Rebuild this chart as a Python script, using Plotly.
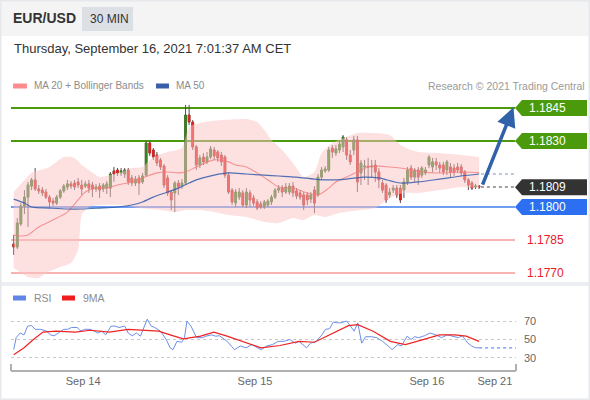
import plotly.graph_objects as go

W, H = 590, 400


def px(x):
    return x / W


def py(y):
    return 1 - y / H


# 30-min EUR/USD bars, x = bar index (0 = first visible bar on Sep 13)
opens = [
    1.17832, 1.17818, 1.17923, 1.18005, 1.18045, 1.18095, 1.18123, 1.18082, 1.18077, 1.18068,
    1.18045, 1.18027, 1.18018, 1.18045, 1.18073, 1.18091, 1.18105, 1.18109, 1.18114, 1.18100,
    1.18095, 1.18105, 1.18100, 1.18082, 1.18095, 1.18082, 1.18086, 1.18086, 1.18164, 1.18168,
    1.18155, 1.18150, 1.18168, 1.18132, 1.18109, 1.18132, 1.18114, 1.18145, 1.18291, 1.18259,
    1.18236, 1.18214, 1.18186, 1.18132, 1.18068, 1.18064, 1.18109, 1.18095, 1.18109, 1.18418,
    1.18386, 1.18273, 1.18191, 1.18227, 1.18205, 1.18227, 1.18259, 1.18250, 1.18236, 1.18227,
    1.18145, 1.18077, 1.18018, 1.18045, 1.18064, 1.18009, 1.18064, 1.18041, 1.18023, 1.18014,
    1.18000, 1.18009, 1.18023, 1.18045, 1.18077, 1.18086, 1.18068, 1.18068, 1.18095, 1.18073,
    1.18064, 1.18055, 1.18055, 1.18036, 1.18077, 1.18055, 1.18136, 1.18164, 1.18168, 1.18268,
    1.18245, 1.18259, 1.18273, 1.18305, 1.18236, 1.18259, 1.18305, 1.18155, 1.18182, 1.18186,
    1.18182, 1.18191, 1.18159, 1.18109, 1.18100, 1.18055, 1.18077, 1.18086, 1.18086, 1.18077,
    1.18114, 1.18177, 1.18136, 1.18168, 1.18145, 1.18155, 1.18191, 1.18182, 1.18205, 1.18191,
    1.18191, 1.18168, 1.18182, 1.18177, 1.18182, 1.18182, 1.18159, 1.18123, 1.18109, 1.18091,
    1.18095,
]
closes = [
    1.17818, 1.17927, 1.18005, 1.18045, 1.18100, 1.18123, 1.18082, 1.18073, 1.18064, 1.18045,
    1.18023, 1.18018, 1.18045, 1.18073, 1.18095, 1.18105, 1.18095, 1.18091, 1.18100, 1.18082,
    1.18105, 1.18086, 1.18082, 1.18091, 1.18077, 1.18100, 1.18105, 1.18150, 1.18150, 1.18155,
    1.18164, 1.18168, 1.18114, 1.18109, 1.18127, 1.18109, 1.18141, 1.18291, 1.18245, 1.18227,
    1.18200, 1.18182, 1.18100, 1.18064, 1.18032, 1.18109, 1.18091, 1.18109, 1.18418, 1.18386,
    1.18273, 1.18191, 1.18223, 1.18205, 1.18227, 1.18264, 1.18232, 1.18223, 1.18205, 1.18145,
    1.18068, 1.18023, 1.18068, 1.18068, 1.18009, 1.18068, 1.18032, 1.18018, 1.17995, 1.18000,
    1.18023, 1.18027, 1.18045, 1.18077, 1.18086, 1.18068, 1.18091, 1.18095, 1.18064, 1.18050,
    1.18045, 1.18009, 1.18032, 1.18055, 1.18018, 1.18136, 1.18168, 1.18173, 1.18259, 1.18250,
    1.18264, 1.18286, 1.18318, 1.18236, 1.18205, 1.18305, 1.18114, 1.18200, 1.18186, 1.18182,
    1.18186, 1.18159, 1.18123, 1.18077, 1.18032, 1.18068, 1.18086, 1.18055, 1.18032, 1.18114,
    1.18168, 1.18136, 1.18168, 1.18136, 1.18177, 1.18168, 1.18227, 1.18205, 1.18191, 1.18177,
    1.18159, 1.18205, 1.18159, 1.18159, 1.18168, 1.18155, 1.18123, 1.18100, 1.18086, 1.18095,
    1.18091,
]
highs = [
    1.17873, 1.17950, 1.18018, 1.18077, 1.18114, 1.18132, 1.18177, 1.18100, 1.18091, 1.18082,
    1.18055, 1.18041, 1.18055, 1.18082, 1.18105, 1.18123, 1.18118, 1.18123, 1.18132, 1.18123,
    1.18118, 1.18123, 1.18114, 1.18105, 1.18109, 1.18109, 1.18118, 1.18159, 1.18182, 1.18177,
    1.18177, 1.18177, 1.18177, 1.18145, 1.18141, 1.18145, 1.18155, 1.18300, 1.18300, 1.18268,
    1.18250, 1.18223, 1.18195, 1.18145, 1.18077, 1.18118, 1.18123, 1.18127, 1.18464, 1.18464,
    1.18395, 1.18282, 1.18236, 1.18245, 1.18250, 1.18277, 1.18273, 1.18259, 1.18250, 1.18236,
    1.18159, 1.18086, 1.18082, 1.18086, 1.18077, 1.18086, 1.18077, 1.18055, 1.18036, 1.18027,
    1.18032, 1.18036, 1.18055, 1.18086, 1.18100, 1.18100, 1.18109, 1.18109, 1.18114, 1.18086,
    1.18077, 1.18068, 1.18068, 1.18068, 1.18095, 1.18150, 1.18182, 1.18186, 1.18273, 1.18282,
    1.18282, 1.18305, 1.18327, 1.18318, 1.18259, 1.18323, 1.18323, 1.18214, 1.18214, 1.18223,
    1.18214, 1.18214, 1.18177, 1.18123, 1.18109, 1.18086, 1.18100, 1.18100, 1.18100, 1.18132,
    1.18182, 1.18191, 1.18177, 1.18182, 1.18186, 1.18182, 1.18236, 1.18223, 1.18223, 1.18205,
    1.18205, 1.18214, 1.18200, 1.18195, 1.18200, 1.18195, 1.18168, 1.18132, 1.18118, 1.18105,
    1.18100,
]
lows = [
    1.17782, 1.17809, 1.17914, 1.17968, 1.17909, 1.18077, 1.18073, 1.18059, 1.18050, 1.18036,
    1.17995, 1.18005, 1.18009, 1.18036, 1.18064, 1.18077, 1.18082, 1.18077, 1.18086, 1.18055,
    1.18086, 1.18064, 1.18045, 1.18068, 1.18041, 1.18068, 1.18059, 1.18045, 1.18114, 1.18141,
    1.18141, 1.18132, 1.18100, 1.18095, 1.18095, 1.18055, 1.18105, 1.18136, 1.18232, 1.18214,
    1.18186, 1.18168, 1.18086, 1.18050, 1.17986, 1.17977, 1.18055, 1.18082, 1.18100, 1.18373,
    1.18259, 1.18168, 1.18177, 1.18191, 1.18195, 1.18218, 1.18214, 1.18205, 1.18186, 1.18132,
    1.18059, 1.18009, 1.18000, 1.18032, 1.18000, 1.17995, 1.18000, 1.18005, 1.17986, 1.17991,
    1.17991, 1.18000, 1.18009, 1.18036, 1.18064, 1.18045, 1.18059, 1.18055, 1.18045, 1.18036,
    1.18032, 1.17986, 1.18009, 1.18018, 1.17973, 1.18045, 1.18123, 1.18155, 1.18159, 1.18223,
    1.18232, 1.18245, 1.18250, 1.18214, 1.18191, 1.18236, 1.18068, 1.18100, 1.18123, 1.18100,
    1.18132, 1.18114, 1.18086, 1.18064, 1.18018, 1.18041, 1.18064, 1.18041, 1.18018, 1.18041,
    1.18100, 1.18123, 1.18114, 1.18100, 1.18132, 1.18145, 1.18177, 1.18159, 1.18168, 1.18155,
    1.18145, 1.18145, 1.18136, 1.18141, 1.18155, 1.18141, 1.18109, 1.18077, 1.18077, 1.18082,
    1.18082,
]

# MA 20 + Bollinger bands and MA 50, read at sample bars
ma20_x = [0, 2, 4, 7, 11, 15, 18, 20, 23, 26, 29, 33, 36, 40, 43, 46, 48, 51, 56, 60,
          62, 65, 68, 71, 74, 78, 82, 85, 88, 90, 93, 96, 99, 102, 105, 108, 117, 126, 130]
ma20 = [1.17873, 1.17868, 1.17873, 1.17909, 1.17941, 1.17977, 1.18032, 1.18068, 1.18086, 1.18086,
        1.18100, 1.18114, 1.18132, 1.18155, 1.18159, 1.18155, 1.18159, 1.18182, 1.18214, 1.18205,
        1.18191, 1.18182, 1.18155, 1.18123, 1.18091, 1.18086, 1.18064, 1.18055, 1.18086, 1.18114,
        1.18136, 1.18159, 1.18182, 1.18186, 1.18182, 1.18177, 1.18155, 1.18159, 1.18155]

bb_up_x = [0, 3, 5, 10, 14, 17, 19, 21, 24, 27, 30, 33, 36, 39, 43, 47, 49, 52, 58, 65,
           68, 70, 72, 75, 78, 81, 84, 86, 89, 93, 96, 100, 105, 108, 111, 113, 119, 125, 130]
bb_up = [1.18068, 1.18123, 1.18155, 1.18182, 1.18227, 1.18223, 1.18191, 1.18168, 1.18136, 1.18145,
         1.18159, 1.18177, 1.18182, 1.18227, 1.18250, 1.18268, 1.18364, 1.18382, 1.18395, 1.18400,
         1.18386, 1.18350, 1.18305, 1.18259, 1.18200, 1.18136, 1.18159, 1.18245, 1.18291, 1.18318,
         1.18336, 1.18336, 1.18327, 1.18282, 1.18259, 1.18250, 1.18245, 1.18236, 1.18227]

bb_lo_x = [0, 4, 7, 9, 13, 16, 18, 19, 21, 24, 30, 35, 41, 45, 48, 52, 56, 60, 65, 70,
           74, 78, 81, 84, 87, 91, 97, 101, 105, 109, 113, 119, 125, 130]
bb_lo = [1.17723, 1.17682, 1.17677, 1.17700, 1.17727, 1.17745, 1.17805, 1.17964, 1.18000, 1.18009,
         1.18009, 1.17995, 1.17986, 1.17977, 1.17986, 1.17986, 1.17977, 1.17964, 1.17955, 1.17932,
         1.17927, 1.17950, 1.17941, 1.17964, 1.17955, 1.17973, 1.17986, 1.17995, 1.18041, 1.18064,
         1.18064, 1.18077, 1.18091, 1.18086]

ma50_x = [0, 3, 5, 10, 15, 19, 24, 29, 33, 36, 39, 43, 46, 49, 51, 56, 60, 65, 70, 74,
          79, 84, 88, 93, 98, 102, 108, 113, 119, 125, 130]
ma50 = [1.18036, 1.18018, 1.18000, 1.17995, 1.17991, 1.17991, 1.17995, 1.18000, 1.18009, 1.18023,
        1.18045, 1.18068, 1.18086, 1.18109, 1.18123, 1.18145, 1.18155, 1.18150, 1.18145, 1.18141,
        1.18136, 1.18127, 1.18123, 1.18127, 1.18136, 1.18132, 1.18109, 1.18114, 1.18127, 1.18141,
        1.18150]

# RSI and its 9-period MA
rsi_x = [0.0, 0.7, 1.8, 2.9, 3.9, 5.0, 6.0, 7.6, 9.2, 10.3, 11.3, 12.4, 14.0, 15.1, 16.1, 17.7,
         18.8, 19.8, 21.4, 22.5, 23.5, 24.6, 25.7, 27.2, 28.3, 29.4, 31.0, 32.0, 33.1, 34.3, 35.4,
         37.3, 38.4, 39.4, 41.0, 42.6, 43.7, 44.5, 45.6, 46.9, 47.7, 48.4, 49.5, 51.1, 52.7, 53.7,
         55.3, 56.4, 57.5, 59.6, 61.7, 63.3, 64.9, 66.5, 68.1, 69.1, 70.7, 72.3, 73.9, 75.5, 77.1,
         78.7, 79.7, 80.8, 81.8, 82.9, 84.5, 86.1, 87.1, 88.2, 89.3, 90.3, 91.4, 93.0, 94.0, 95.1,
         96.1, 97.2, 98.3, 99.9, 101.4, 103.0, 104.6, 105.7, 107.3, 108.3, 109.9, 111.0, 112.0,
         113.1, 114.7, 116.3, 117.9, 119.5, 121.1, 122.6, 124.2, 125.3, 126.9, 127.9, 129.0, 130.0]
rsi = [39, 52, 57, 55, 64.5, 65, 61, 61, 59, 55, 54, 57, 61, 61, 63, 63,
       59, 61, 61, 59, 57, 59, 55, 64.5, 64.5, 63, 64.5, 57, 54, 57, 53.6,
       72, 64.5, 63, 59, 50, 41, 39, 48, 47, 52, 70, 64.5, 52, 52, 53.6,
       55, 53.6, 54, 48, 39, 43, 41, 44.5, 41, 39, 43, 44.5, 48, 48, 50,
       46, 48, 44.5, 41, 46, 48, 55, 61, 61.6, 69, 68, 68, 70, 64.5, 59,
       68, 46, 53, 53, 52, 48, 43, 39, 44.5, 43, 53.6, 50, 53,
       52, 54, 57, 55, 52, 55, 53.6, 52, 54, 46, 43, 41, 41]
rsi_ma_x = [0, 2.9, 5.5, 8.2, 11.9, 17.2, 21.4, 26.7, 32.0, 40.5, 43.7, 47.4, 52.2, 55.9, 59.6,
            63.8, 69.1, 74.4, 79.7, 84.0, 88.2, 93.5, 96.1, 100.4, 105.2, 109.4, 113.6, 118.9,
            123.2, 126.4, 130.0]
rsi_ma = [33.6, 41, 50, 58, 59, 58, 60, 58, 61, 59, 55, 50.7, 53.6, 58, 53.6,
          48, 41, 43.5, 48, 47, 55, 65, 66, 59, 48, 44.5, 49, 55,
          55, 53.6, 48]

tick_pos = [19.4, 67.4, 115.4, 134.4]
tick_text = ['Sep 14', 'Sep 15', 'Sep 16', 'Sep 21']

levels = [1.1845, 1.1830, 1.1809, 1.1800, 1.1785, 1.1770]
level_text = ['1.1845', '1.1830', '1.1809', '1.1800', '1.1785', '1.1770']
level_kind = ['res', 'res', 'last', 'pivot', 'sup', 'sup']
target = 1.1845

# geometry (pixels of the 590x400 card)
PLOT_L, PLOT_R = 11, 516
MAIN_T, MAIN_B = 96, 280
RSI_T, RSI_B = 305, 370
X_RANGE = [-0.75, 140.3]
Y_RANGE = [1.176682, 1.185045]
RSI_RANGE = [17.0, 87.3]
FONT = 'Liberation Sans, Arial, sans-serif'

GREEN = '#4a9a0c'
RED_BODY = '#e3231f'
GREEN_BODY = '#34861e'
WICK = '#5b4c4c'

fig = go.Figure()

# Bollinger band
fig.add_trace(go.Scatter(x=bb_lo_x, y=bb_lo, mode='lines', line=dict(width=0, shape='spline', smoothing=0.6),
                         hoverinfo='skip', xaxis='x', yaxis='y'))
fig.add_trace(go.Scatter(x=bb_up_x, y=bb_up, mode='lines', line=dict(width=0, shape='spline', smoothing=0.6),
                         fill='tonexty', fillcolor='rgba(251,196,196,0.5)', hoverinfo='skip',
                         xaxis='x', yaxis='y'))

# candles: wicks first, then the coloured bodies on top
bar_x = list(range(len(closes)))
fig.add_trace(go.Candlestick(
    x=bar_x, open=opens, high=highs, low=lows, close=closes,
    increasing=dict(line=dict(color=WICK, width=1), fillcolor=GREEN_BODY),
    decreasing=dict(line=dict(color=WICK, width=1), fillcolor=RED_BODY),
    whiskerwidth=0, hoverinfo='skip', xaxis='x', yaxis='y'))
body_hi = [max(o, c) for o, c in zip(opens, closes)]
body_lo = [min(o, c) for o, c in zip(opens, closes)]
fig.add_trace(go.Candlestick(
    x=bar_x, open=opens, high=body_hi, low=body_lo, close=closes,
    increasing=dict(line=dict(color=GREEN_BODY, width=0.6), fillcolor=GREEN_BODY),
    decreasing=dict(line=dict(color=RED_BODY, width=0.6), fillcolor=RED_BODY),
    whiskerwidth=0, hoverinfo='skip', xaxis='x', yaxis='y'))

# moving averages
fig.add_trace(go.Scatter(x=ma20_x, y=ma20, mode='lines',
                         line=dict(color='rgba(242,120,120,0.75)', width=1.1, shape='spline', smoothing=0.8),
                         hoverinfo='skip', xaxis='x', yaxis='y'))
fig.add_trace(go.Scatter(x=ma50_x, y=ma50, mode='lines',
                         line=dict(color='rgba(52,90,170,0.85)', width=1.2, shape='spline', smoothing=0.8),
                         hoverinfo='skip', xaxis='x', yaxis='y'))

# dotted projections to the right edge
last = len(closes) - 1
fig.add_trace(go.Scatter(x=[last + 0.5, X_RANGE[1]], y=[ma50[-1], ma50[-1]], mode='lines',
                         line=dict(color='#7d8fb3', width=1.2, dash='dot'), hoverinfo='skip',
                         xaxis='x', yaxis='y'))
fig.add_trace(go.Scatter(x=[last + 0.5, X_RANGE[1]], y=[closes[-1], closes[-1]], mode='lines',
                         line=dict(color='#444444', width=1.2, dash='dot'), hoverinfo='skip',
                         xaxis='x', yaxis='y'))

# RSI panel
fig.add_trace(go.Scatter(x=rsi_x, y=rsi, mode='lines', line=dict(color='#6b8fe9', width=1),
                         hoverinfo='skip', xaxis='x2', yaxis='y2'))
fig.add_trace(go.Scatter(x=rsi_ma_x, y=rsi_ma, mode='lines', line=dict(color='#ee2424', width=1.2),
                         hoverinfo='skip', xaxis='x2', yaxis='y2'))
fig.add_trace(go.Scatter(x=[rsi_x[-1], X_RANGE[1]], y=[rsi[-1], rsi[-1]], mode='lines',
                         line=dict(color='#6b8fe9', width=1.2, dash='dot'), hoverinfo='skip',
                         xaxis='x2', yaxis='y2'))

shapes = []
annotations = []

# card frame, header strip, panel separator
shapes.append(dict(type='rect', xref='paper', yref='paper', x0=0, x1=1, y0=py(36), y1=1,
                   fillcolor='#f4f4f4', line=dict(width=0), layer='below'))
shapes.append(dict(type='rect', xref='paper', yref='paper', x0=0, x1=1, y0=py(286), y1=py(282),
                   fillcolor='#eceef1', line=dict(width=0), layer='below'))
shapes.append(dict(type='rect', xref='paper', yref='paper', x0=0, x1=1, y0=0, y1=1,
                   line=dict(color='#e6e8eb', width=3), layer='above'))
shapes.append(dict(type='rect', xref='paper', yref='paper', x0=px(82), x1=px(133), y0=py(31), y1=py(7),
                   fillcolor='#dcdfe4', line=dict(width=0), layer='below'))

# horizontal levels and right-side tags
ppp = (Y_RANGE[1] - Y_RANGE[0]) / (MAIN_B - MAIN_T)
half = 8 * ppp
line_style = {'res': (GREEN, 2), 'pivot': ('#6e9df1', 2), 'sup': ('#f8b3b3', 2)}
tag_fill = {'res': GREEN, 'last': '#333333', 'pivot': '#2c6ff0'}
for lvl, txt, kind in zip(levels, level_text, level_kind):
    if kind in line_style:
        col, w = line_style[kind]
        shapes.append(dict(type='line', xref='paper', yref='y', x0=px(PLOT_L), x1=px(515),
                           y0=lvl, y1=lvl, line=dict(color=col, width=w), layer='below'))
    if kind in tag_fill:
        path = 'M {a},{m} L {b},{t} L {c},{t} L {c},{d} L {b},{d} Z'.format(
            a=px(515), b=px(522), c=px(587), m=lvl, t=lvl + half, d=lvl - half)
        shapes.append(dict(type='path', xref='paper', yref='y', path=path,
                           fillcolor=tag_fill[kind], line=dict(width=0), layer='above'))
        annotations.append(dict(text=txt, xref='paper', yref='y', x=px(527), y=lvl,
                                xanchor='left', yanchor='middle', showarrow=False,
                                font=dict(family=FONT, size=12, color='#ffffff')))
    else:
        annotations.append(dict(text=txt, xref='paper', yref='y', x=px(525), y=lvl,
                                xanchor='left', yanchor='middle', showarrow=False,
                                font=dict(family=FONT, size=12, color='#e8202a')))

# target arrow
annotations.append(dict(text='', xref='x', yref='y', axref='x', ayref='y',
                        x=139.6, y=target + 0.00003, ax=last + 0.8, ay=closes[-1] + 0.00004,
                        showarrow=True, arrowhead=2, arrowsize=1.1, arrowwidth=3.5,
                        arrowcolor='#2f62a8', standoff=0))

# rsi axis end ticks
for xe in (PLOT_L, PLOT_R):
    shapes.append(dict(type='line', xref='paper', yref='paper', x0=px(xe), x1=px(xe),
                       y0=py(RSI_B + 1), y1=py(RSI_B - 6), line=dict(color='#b0b0b0', width=2)))

# header and legends
annotations += [
    dict(text='<b>EUR/USD</b>', x=px(11), y=py(18), font=dict(size=14, color='#333333')),
    dict(text='30 MIN', x=px(88), y=py(19), font=dict(size=12, color='#333333')),
    dict(text='Thursday, September 16, 2021 7:01:37 AM CET', x=px(12), y=py(48),
         font=dict(size=13, color='#333333')),
    dict(text='MA 20 + Bollinger Bands', x=px(32), y=py(86), font=dict(size=10, color='#8c8c8c')),
    dict(text='MA 50', x=px(174), y=py(86), font=dict(size=10, color='#8c8c8c')),
    dict(text='RSI', x=px(32), y=py(298), font=dict(size=10.5, color='#8c8c8c')),
    dict(text='9MA', x=px(81), y=py(298), font=dict(size=10.5, color='#8c8c8c')),
]
for a in annotations[-7:]:
    a.update(xref='paper', yref='paper', xanchor='left', yanchor='middle', showarrow=False)
    a['font']['family'] = FONT
annotations.append(dict(text='Research © 2021 Trading Central', xref='paper', yref='paper',
                        x=px(587), y=py(86), xanchor='right', yanchor='middle', showarrow=False,
                        font=dict(family=FONT, size=10.5, color='#9a9a9a')))

for x0, x1, y0, col in [(13, 27, 86, '#ff8c8c'), (156, 169, 86, '#3b5ea8'),
                        (13, 26, 298, '#5f86e6'), (62, 75, 298, '#ee1c1c')]:
    shapes.append(dict(type='rect', xref='paper', yref='paper', x0=px(x0), x1=px(x1),
                       y0=py(y0 + 2.5), y1=py(y0 - 2.5), fillcolor=col, line=dict(width=0)))

fig.update_layout(
    width=W, height=H,
    margin=dict(l=0, r=0, t=0, b=0),
    paper_bgcolor='#ffffff', plot_bgcolor='rgba(0,0,0,0)',
    showlegend=False,
    font=dict(family=FONT),
    shapes=shapes, annotations=annotations,
    xaxis=dict(domain=[px(PLOT_L), px(PLOT_R)], range=X_RANGE, visible=False,
               rangeslider=dict(visible=False), anchor='y'),
    yaxis=dict(domain=[py(MAIN_B), py(MAIN_T)], range=Y_RANGE, visible=False, anchor='x'),
    xaxis2=dict(domain=[px(PLOT_L), px(PLOT_R)], range=X_RANGE, anchor='y2',
                tickvals=tick_pos, ticktext=tick_text, ticks='', showgrid=False, zeroline=False,
                showline=True, linecolor='#b0b0b0', linewidth=2,
                tickfont=dict(family=FONT, size=11, color='#666666'),
                rangeslider=dict(visible=False)),
    yaxis2=dict(domain=[py(RSI_B), py(RSI_T)], range=RSI_RANGE, anchor='x2', side='right',
                tickvals=[30, 50, 70], showgrid=True, gridcolor='#c8c8c8', griddash='dot',
                gridwidth=1, zeroline=False, showline=False, ticks='', ticklabelstandoff=7,
                tickfont=dict(family=FONT, size=11, color='#666666')),
)

# the page body has a default 8px margin; drop it so the card sits at the window corner
fig.write_html("out.html", config={'displayModeBar': False},
               post_script="document.body.style.margin='0';")
